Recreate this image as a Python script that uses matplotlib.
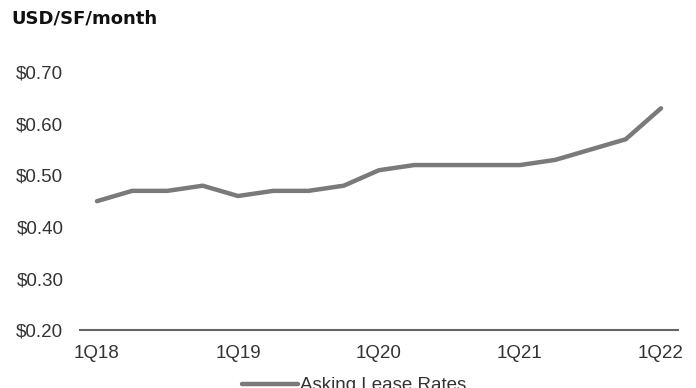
import numpy as np
import matplotlib.pyplot as plt

plt.rcParams['font.family'] = ['Liberation Sans', 'DejaVu Sans']

quarters = ['1Q18', '2Q18', '3Q18', '4Q18',
            '1Q19', '2Q19', '3Q19', '4Q19',
            '1Q20', '2Q20', '3Q20', '4Q20',
            '1Q21', '2Q21', '3Q21', '4Q21',
            '1Q22']
asking_rates = [0.45, 0.47, 0.47, 0.48,
                0.46, 0.47, 0.47, 0.48,
                0.51, 0.52, 0.52, 0.52,
                0.52, 0.53, 0.55, 0.57,
                0.63]
y_ticks = [0.20, 0.30, 0.40, 0.50, 0.60, 0.70]

fig = plt.figure(figsize=(6.96, 3.88), dpi=100)
ax = fig.add_axes([0.115, 0.149, 0.859, 0.665])

x = np.arange(len(quarters))
ax.plot(x, asking_rates, color='#7a7a7a', lw=3.2, solid_capstyle='round',
        label='Asking Lease Rates', clip_on=False)

ax.set_xlim(-0.48, len(quarters) - 0.52)
ax.set_ylim(0.20, 0.70)
ax.set_yticks(y_ticks)
ax.set_yticklabels([f'${v:.2f}' for v in y_ticks])
ax.set_xticks(x[::4])
ax.set_xticklabels(quarters[::4])
ax.tick_params(length=0, labelsize=13.5, colors='#333333')
ax.tick_params(axis='y', pad=12)
ax.tick_params(axis='x', pad=11)

for side in ['top', 'right', 'left']:
    ax.spines[side].set_visible(False)
ax.spines['bottom'].set_color('#666666')
ax.spines['bottom'].set_linewidth(1.5)

fig.text(0.016, 0.953, 'USD/SF/month', fontsize=13, fontweight='bold',
         family='DejaVu Sans', color='#111111', va='center', ha='left')

ax.legend(loc='center', bbox_to_anchor=(0.458, -0.215), frameon=False,
          fontsize=13.5, handlelength=3.0, handletextpad=0.1,
          labelcolor='#333333')

fig.savefig('out.png', dpi=100)
